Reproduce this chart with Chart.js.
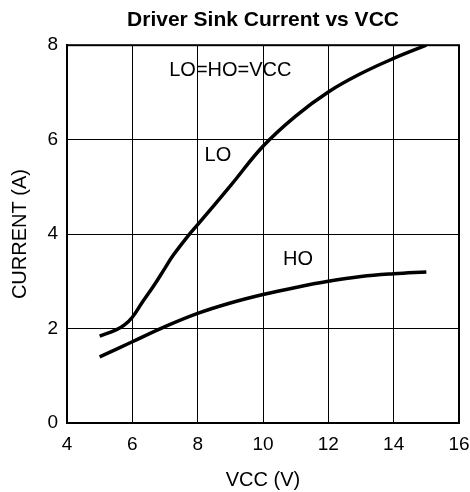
<!DOCTYPE html>
<html>
<head>
<meta charset="utf-8">
<script src="https://cdn.jsdelivr.net/npm/chart.js@4"></script>
<style>
  html, body { margin: 0; padding: 0; background: #fff; }
  #wrap { width: 470px; height: 492px; }
</style>
</head>
<body>
<div id="wrap"><canvas id="sinkChart" width="470" height="492"></canvas></div>
<script>
// values
var loVcc = [5, 5.5, 5.75, 6, 6.3, 6.65, 7, 7.25, 7.75, 8, 9, 10, 11, 12, 13, 14, 15];
var loCurrent = [1.84, 1.97, 2.07, 2.24, 2.55, 2.9, 3.28, 3.55, 4.0, 4.2, 5.02, 5.86, 6.5, 7.01, 7.4, 7.72, 8.0];
var hoVcc = [5, 6, 7, 8, 9, 10, 11, 12, 13, 14, 15];
var hoCurrent = [1.4, 1.72, 2.04, 2.32, 2.54, 2.72, 2.87, 3.0, 3.1, 3.16, 3.2];
var xTicks = [4, 6, 8, 10, 12, 14, 16];
var yTicks = [0, 2, 4, 6, 8];

// text labels placed inside the plot (data coordinates)
var notes = [
  { text: 'LO=HO=VCC', x: 9.0, y: 7.47 },
  { text: 'LO', x: 8.62, y: 5.66 },
  { text: 'HO', x: 11.07, y: 3.47 }
];

function pts(xs, ys) {
  return xs.map(function(v, i) { return { x: v, y: ys[i] }; });
}

var FONT = 'Liberation Sans, Arial, sans-serif';

var ctx = document.getElementById('sinkChart');
new Chart(ctx, {
  type: 'scatter',
  data: {
    datasets: [
      { label: 'LO', data: pts(loVcc, loCurrent) },
      { label: 'HO', data: pts(hoVcc, hoCurrent) }
    ]
  },
  options: {
    responsive: false,
    animation: false,
    layout: { padding: { left: 0, right: 0, top: 0, bottom: 0 } },
    elements: {
      point: { radius: 0 },
      line: { borderColor: '#000', borderWidth: 3.5, tension: 0.4 }
    },
    datasets: { scatter: { showLine: true } },
    plugins: {
      legend: { display: false },
      tooltip: { enabled: false },
      title: {
        display: true,
        fullSize: false,
        text: 'Driver Sink Current vs VCC',
        color: '#000',
        font: { family: FONT, size: 21, weight: 'bold' },
        padding: { top: 8, bottom: 12 }
      }
    },
    scales: {
      x: {
        type: 'linear',
        min: 4, max: 16,
        afterBuildTicks: function(s) { s.ticks = xTicks.map(function(v) { return { value: v }; }); },
        afterFit: function(s) { s.height = 69; s.paddingRight = 11; },
        grid: { color: '#000', lineWidth: 1, drawTicks: false },
        border: { color: '#000', width: 2 },
        ticks: { color: '#000', padding: 10, font: { family: FONT, size: 19 } },
        title: { display: true, text: 'VCC (V)', color: '#000', padding: 0, font: { family: FONT, size: 20 } }
      },
      y: {
        min: 0, max: 8,
        afterBuildTicks: function(s) { s.ticks = yTicks.map(function(v) { return { value: v }; }); },
        afterFit: function(s) { s.width = 67; },
        grid: { color: '#000', lineWidth: 1, drawTicks: false },
        border: { color: '#000', width: 2 },
        ticks: { color: '#000', padding: 9, font: { family: FONT, size: 19 } },
        title: { display: true, text: 'CURRENT (A)', color: '#000', padding: { top: 8, bottom: 0 }, font: { family: FONT, size: 20 } }
      }
    }
  },
  plugins: [{
    id: 'frameAndNotes',
    afterDraw: function(chart) {
      var c = chart.ctx, a = chart.chartArea;
      var xs = chart.scales.x, ys = chart.scales.y;
      c.save();
      c.strokeStyle = '#000';
      c.lineWidth = 2;
      c.strokeRect(a.left, a.top, a.right - a.left, a.bottom - a.top);
      c.fillStyle = '#000';
      c.font = '20px ' + FONT;
      c.textAlign = 'center';
      c.textBaseline = 'middle';
      notes.forEach(function(n) {
        c.fillText(n.text, xs.getPixelForValue(n.x), ys.getPixelForValue(n.y));
      });
      c.restore();
    }
  }]
});
</script>
</body>
</html>
